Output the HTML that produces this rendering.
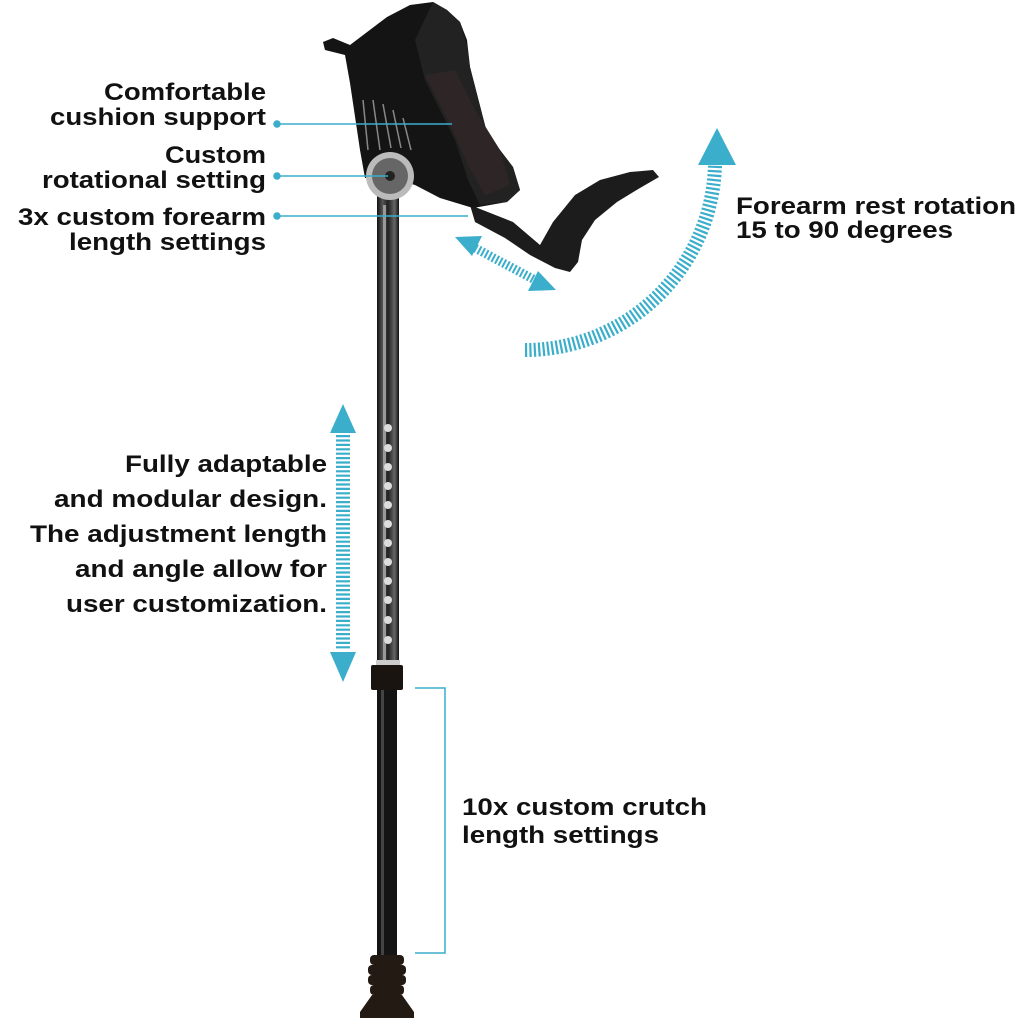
<!DOCTYPE html>
<html><head><meta charset="utf-8"><style>
html,body{margin:0;padding:0;background:#fff;}
svg{display:block;}
text{font-family:"Liberation Sans",Arial,sans-serif;font-weight:bold;font-size:24px;fill:#111;}
</style></head><body>
<svg width="1024" height="1024" viewBox="0 0 1024 1024" xmlns="http://www.w3.org/2000/svg">
<defs>
<linearGradient id="tube" x1="0" x2="1">
<stop offset="0" stop-color="#111"/><stop offset="0.25" stop-color="#555"/><stop offset="0.5" stop-color="#222"/><stop offset="0.8" stop-color="#666"/><stop offset="1" stop-color="#111"/>
</linearGradient>
</defs>
<!-- upper tube -->
<rect x="377" y="195" width="22" height="470" fill="url(#tube)"/>
<rect x="383" y="205" width="3" height="460" fill="#999"/>
<g fill="#ddd">
<circle cx="388" cy="428" r="4"/><circle cx="388" cy="448" r="4"/><circle cx="388" cy="467" r="4"/><circle cx="388" cy="486" r="4"/><circle cx="388" cy="505" r="4"/><circle cx="388" cy="524" r="4"/><circle cx="388" cy="543" r="4"/><circle cx="388" cy="562" r="4"/><circle cx="388" cy="581" r="4"/><circle cx="388" cy="600" r="4"/><circle cx="388" cy="620" r="4"/><circle cx="388" cy="640" r="4"/>
</g>
<rect x="376" y="660" width="24" height="5" fill="#ccc"/>
<rect x="371" y="665" width="32" height="25" rx="2" fill="#1a1410"/>
<!-- lower tube -->
<rect x="377" y="690" width="20" height="268" fill="#141414"/>
<rect x="381" y="690" width="3" height="268" fill="#444"/>
<!-- foot -->
<g fill="#231a14">
<rect x="370" y="955" width="34" height="10" rx="4"/><rect x="368" y="965" width="38" height="10" rx="4"/><rect x="368" y="975" width="38" height="10" rx="4"/><rect x="370" y="985" width="34" height="10" rx="4"/>
<path d="M372 995 L402 995 L414 1012 L414 1018 L360 1018 L360 1012 Z"/>
</g>
<!-- handle -->
<path d="M470 205 L513 222 L540 245 L553 222 L575 195 L600 180 L630 172 L653 170 L659 177 L640 188 L617 202 L595 220 L582 240 L578 262 L570 272 L555 268 L530 255 L505 238 L475 222 Z" fill="#1c1c1c"/>
<!-- cuff -->
<path d="M323 42 L333 38 L350 45 L387 17 L410 5 L433 2 L447 10 L460 22 L467 40 L470 67 L487 133 L513 167 L520 190 L507 202 L473 208 L440 198 L415 185 L392 178 L365 178 L360 150 L350 83 L345 55 L325 50 Z" fill="#141414"/>
<path d="M433 2 L447 10 L460 22 L467 45 L470 67 L487 133 L513 167 L520 190 L507 202 L480 205 L468 180 L455 140 L425 80 L415 40 Z" fill="#222"/>
<path d="M425 75 L455 70 L475 110 L500 150 L510 185 L485 195 L468 165 L448 120 Z" fill="#2e2626"/>
<g stroke="#888" stroke-width="1.5">
<line x1="363" y1="100" x2="368" y2="150"/><line x1="373" y1="100" x2="380" y2="150"/><line x1="383" y1="104" x2="391" y2="148"/><line x1="393" y1="110" x2="401" y2="148"/><line x1="403" y1="118" x2="411" y2="150"/>
</g>
<!-- hinge -->
<circle cx="390" cy="176" r="24" fill="#bbb"/>
<circle cx="390" cy="176" r="18" fill="#666"/>
<circle cx="390" cy="176" r="5" fill="#222"/>
<!-- label connectors -->
<g stroke="#3aaecb" stroke-width="1.5" fill="#3aaecb">
<line x1="277" y1="124" x2="452" y2="124"/><circle cx="277" cy="124" r="3"/>
<line x1="277" y1="176" x2="388" y2="176"/><circle cx="277" cy="176" r="3"/>
<line x1="277" y1="216" x2="468" y2="216"/><circle cx="277" cy="216" r="3"/>
<polyline points="415,688 445,688 445,953 415,953" fill="none"/>
</g>
<!-- forearm length arrow -->
<g fill="#3aaecb">
<line x1="475" y1="248" x2="535" y2="280" stroke="#3aaecb" stroke-width="9" stroke-dasharray="2 2"/>
<polygon points="455,237 482,236 472,256"/>
<polygon points="556,290 528,291 538,271"/>
</g>
<!-- rotation arc -->
<path d="M525 350 A190 190 0 0 0 715 165" fill="none" stroke="#3aaecb" stroke-width="14" stroke-dasharray="2.2 2.2"/>
<polygon points="717,128 698,165 736,165" fill="#3aaecb"/>
<!-- vertical arrow -->
<line x1="343" y1="435" x2="343" y2="650" stroke="#3aaecb" stroke-width="14" stroke-dasharray="2.2 2.2"/>
<polygon points="343,404 330,433 356,433" fill="#3aaecb"/>
<polygon points="343,682 330,652 356,652" fill="#3aaecb"/>
<!-- labels -->
<g text-anchor="end">
<text x="266" y="100" textLength="162" lengthAdjust="spacingAndGlyphs">Comfortable</text>
<text x="266" y="125" textLength="216" lengthAdjust="spacingAndGlyphs">cushion support</text>
<text x="266" y="163" textLength="101" lengthAdjust="spacingAndGlyphs">Custom</text>
<text x="266" y="188" textLength="224" lengthAdjust="spacingAndGlyphs">rotational setting</text>
<text x="266" y="225" textLength="248" lengthAdjust="spacingAndGlyphs">3x custom forearm</text>
<text x="266" y="250" textLength="197" lengthAdjust="spacingAndGlyphs">length settings</text>
<text x="327" y="472" textLength="202" lengthAdjust="spacingAndGlyphs">Fully adaptable</text>
<text x="327" y="507" textLength="273" lengthAdjust="spacingAndGlyphs">and modular design.</text>
<text x="327" y="542" textLength="297" lengthAdjust="spacingAndGlyphs">The adjustment length</text>
<text x="327" y="577" textLength="252" lengthAdjust="spacingAndGlyphs">and angle allow for</text>
<text x="327" y="612" textLength="261" lengthAdjust="spacingAndGlyphs">user customization.</text>
</g>
<text x="736" y="214" textLength="280" lengthAdjust="spacingAndGlyphs">Forearm rest rotation</text>
<text x="736" y="238" textLength="217" lengthAdjust="spacingAndGlyphs">15 to 90 degrees</text>
<text x="462" y="815" textLength="245" lengthAdjust="spacingAndGlyphs">10x custom crutch</text>
<text x="462" y="843" textLength="197" lengthAdjust="spacingAndGlyphs">length settings</text>
</svg>
</body></html>
